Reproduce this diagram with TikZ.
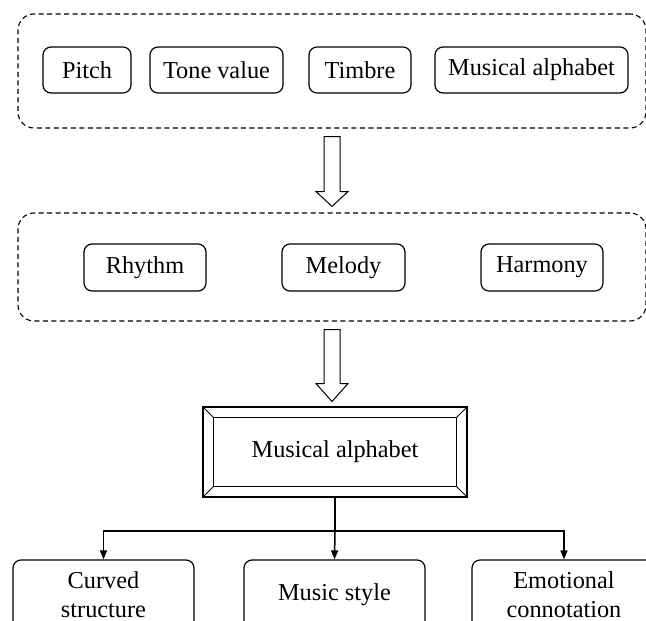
\documentclass[tikz,border=0pt]{standalone}
\usepackage{fontspec}
\setmainfont{Liberation Serif}
\usetikzlibrary{arrows.meta,calc}
\begin{document}
\begin{tikzpicture}[x=1pt,y=-1pt,
  txt/.style={font=\fontsize{24.3}{29}\selectfont, text=black},
  box/.style={txt, draw, rounded corners=8pt, line width=1.2pt, inner sep=0pt, align=center, minimum height=46pt},
  group/.style={draw, dash pattern=on 5pt off 3.5pt, rounded corners=16pt, line width=1.1pt, inner sep=0pt},
  hollow/.style={draw, line width=1pt, fill=white, line join=miter},
  conn/.style={line width=1.5pt},
  tip/.style={-{Triangle[length=9pt,width=7pt]}}
]
\useasboundingbox (0,0) rectangle (646,621);
% top group
\node[group, minimum width=628pt, minimum height=114pt] (g1) at (332,71) {};
\node[box, minimum width=88pt] (pitch) at (87,70) {Pitch};
\node[box, minimum width=133pt] (tone) at (216.5,70) {Tone value};
\node[box, minimum width=102pt] (timbre) at (360,70) {Timbre};
\node[box, minimum width=193pt] (alpha) at (531.5,70) {Musical alphabet};
% second group
\node[group, minimum width=628pt, minimum height=108pt] (g2) at (332,267) {};
\node[box, minimum width=122pt, minimum height=47pt] (rhythm) at (145,267.5) {Rhythm};
\node[box, minimum width=123pt, minimum height=47pt] (melody) at (343.5,267.5) {Melody};
\node[box, minimum width=122pt, minimum height=47pt] (harmony) at (542,267.5) {Harmony};
% hollow arrows
\draw[hollow] ($(g1.south)+(-8,8)$) -- ($(g1.south)+(8,8)$) -- ($(g1.south)+(8,63)$) -- ($(g1.south)+(16,63)$)
  -- ($(g2.north)+(0,-6)$) -- ($(g1.south)+(-16,63)$) -- ($(g1.south)+(-8,63)$) -- cycle;
\draw[hollow] ($(g2.south)+(-8,8)$) -- ($(g2.south)+(8,8)$) -- ($(g2.south)+(8,62)$) -- ($(g2.south)+(16,62)$)
  -- ($(g2.south)+(0,80)$) -- ($(g2.south)+(-16,62)$) -- ($(g2.south)+(-8,62)$) -- cycle;
% bevel box
\node[txt, draw, line width=1.5pt, minimum width=264pt, minimum height=90pt, inner sep=0pt] (mb) at (335,452) {Musical alphabet};
\coordinate (i1) at ($(mb.north west)+(11,11)$);
\coordinate (i2) at ($(mb.north east)+(-11,11)$);
\coordinate (i3) at ($(mb.south east)+(-11,-11)$);
\coordinate (i4) at ($(mb.south west)+(11,-11)$);
\draw[line width=1.2pt] (i1) rectangle (i3);
\draw[line width=1pt] (mb.north west) -- (i1) (mb.north east) -- (i2) (mb.south east) -- (i3) (mb.south west) -- (i4);
% bottom boxes
\node[box, minimum width=181pt, minimum height=70pt] (curved) at (103.5,595) {Curved\\structure};
\node[box, minimum width=181pt, minimum height=70pt] (style) at (334.5,595) {Music style};
\node[box, minimum width=184pt, minimum height=70pt] (emo) at (564,595) {Emotional\\connotation};
% connectors
\coordinate (split) at ($(mb.south)+(0,33)$);
\draw[conn] (mb.south) -- (split);
\draw[conn, tip] (split) -| (curved.north);
\draw[conn, tip] (split) -- (style.north);
\draw[conn, tip] (split) -| (emo.north);
\end{tikzpicture}
\end{document}
